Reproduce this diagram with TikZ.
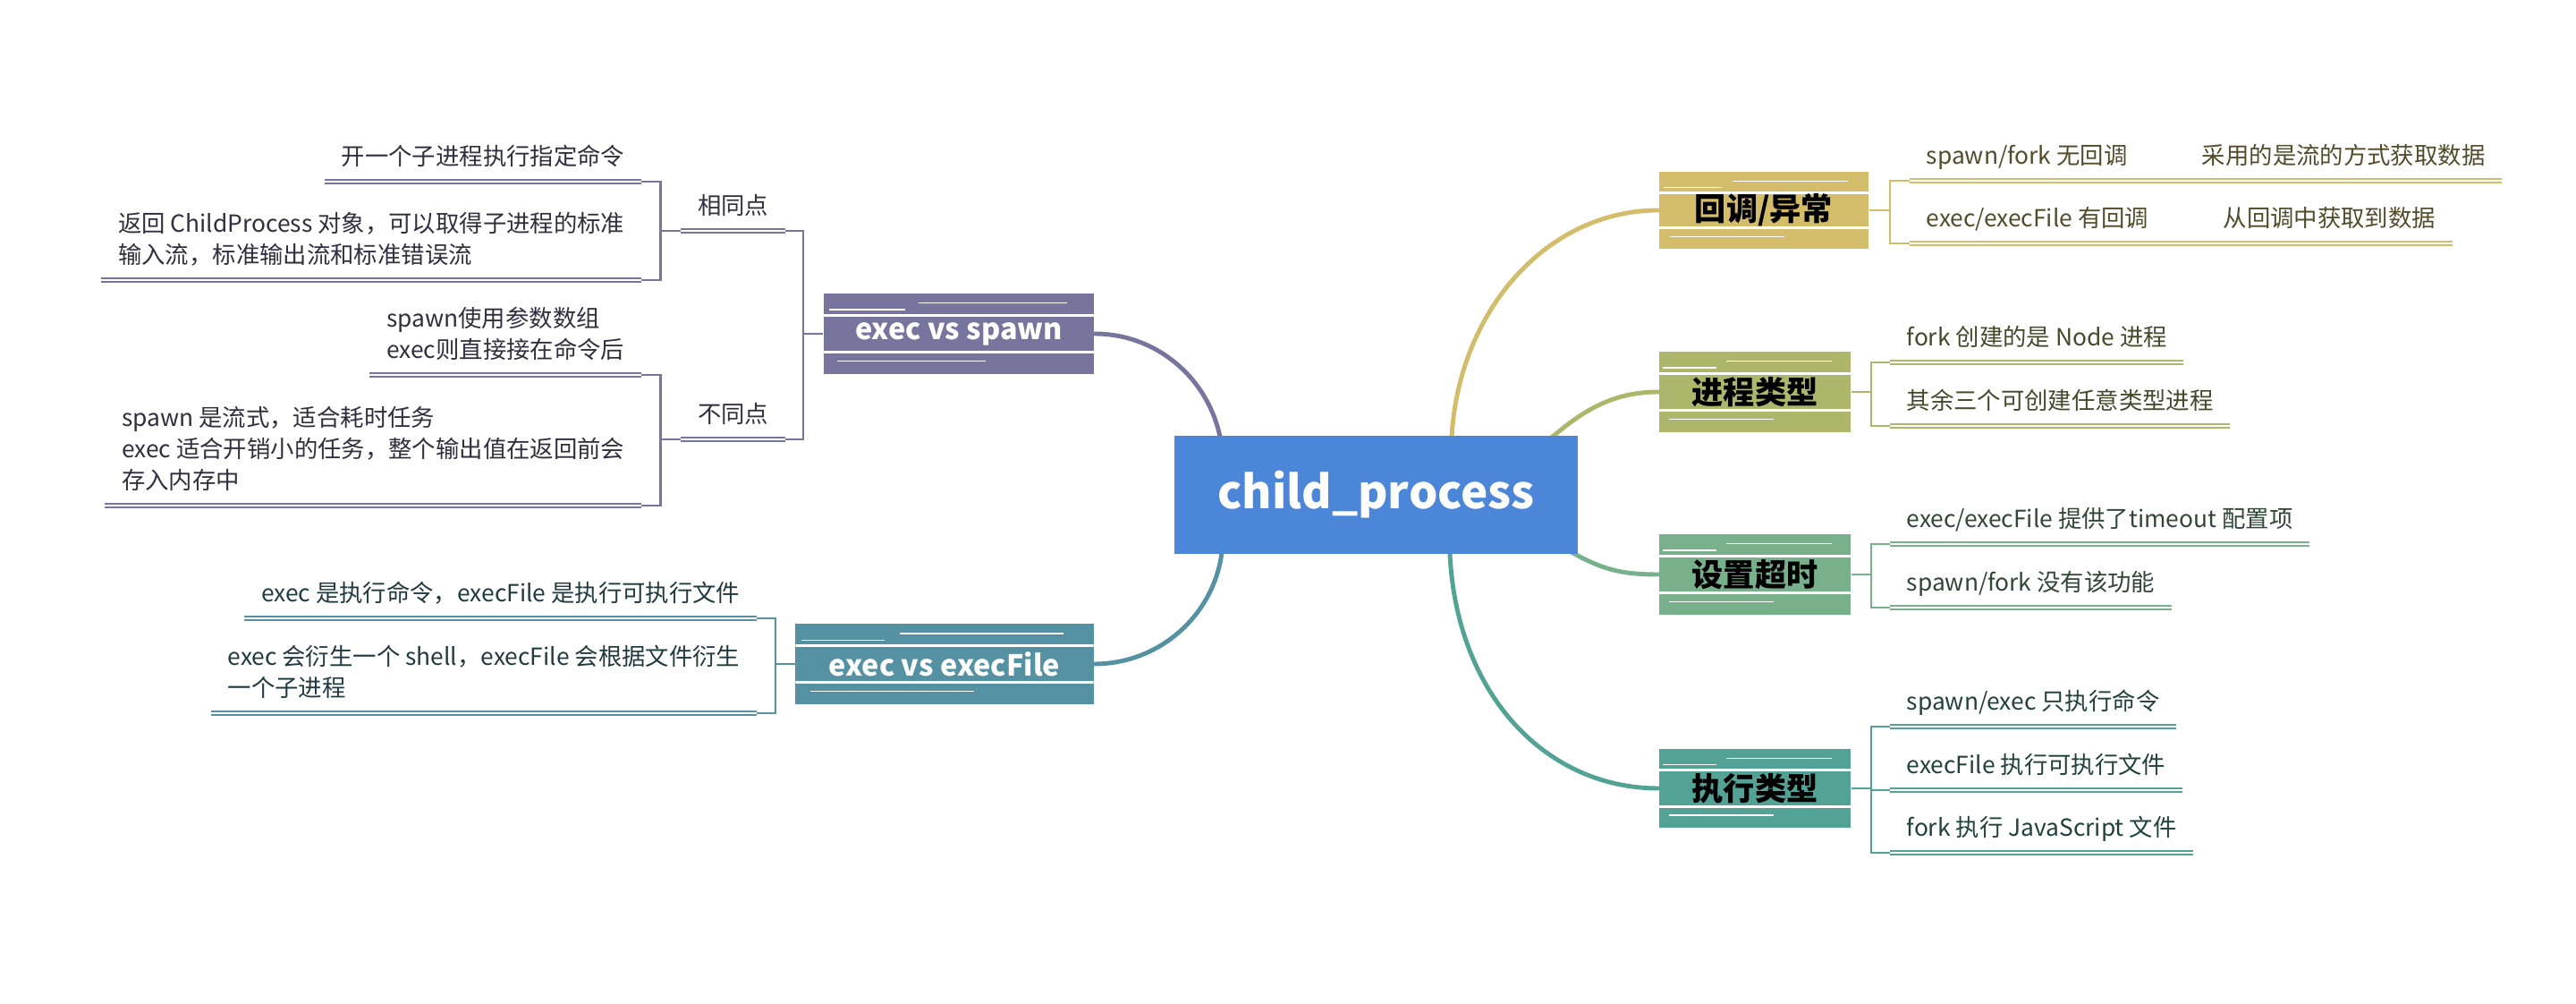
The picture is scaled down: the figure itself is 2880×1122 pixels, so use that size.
\documentclass[tikz,border=0pt]{standalone}
\usepackage{fontspec}
\setmainfont{Noto Sans CJK SC}
\usetikzlibrary{calc,backgrounds}

\definecolor{rootblue}{HTML}{4C86D9}
\definecolor{mustard}{HTML}{D3BC6A}
\definecolor{moss}{HTML}{ADB66B}
\definecolor{sage}{HTML}{77B08A}
\definecolor{jade}{HTML}{52A396}
\definecolor{slate}{HTML}{77759E}
\definecolor{petrol}{HTML}{5391A3}

\tikzset{
  root/.style={fill=rootblue, text=white, font=\fontsize{14.5}{17}\selectfont\bfseries,
    minimum width=4.51cm, minimum height=1.31cm, inner sep=0pt},
  streaks/.style={path picture={
    \foreach \f/\a/\b/\w in {0.12/0.35/0.9/0.4pt, 0.2/0.02/0.3/0.3pt, 0.27/-0.1/1.1/0.9pt,
                            0.73/-0.1/1.1/0.8pt, 0.84/0.05/0.6/0.4pt}{
      \draw[white, line width=\w]
        let \p1=($(path picture bounding box.north west)!\f!(path picture bounding box.south west)$),
            \p2=($(path picture bounding box.north east)!\f!(path picture bounding box.south east)$)
        in ($(\p1)!\a!(\p2)$) -- ($(\p1)!\b!(\p2)$);
    }}},
  branch/.style={fill=#1, font=\fontsize{10}{12}\selectfont\bfseries, inner sep=0pt, streaks},
  leaf/.style={font=\fontsize{7.5}{10}\selectfont, text=#1!40!black, align=left,
    inner xsep=1.8mm, inner ysep=0.69mm, execute at end node=\strut},
  limb/.style={draw=#1, line width=1.4pt, line cap=round},
  twig/.style={draw=#1, line width=0.6pt},
  rule/.style={draw=#1, line width=0.45pt, double=white, double distance=0.6pt},
}

\begin{document}
\begin{tikzpicture}[x=0.01cm, y=-0.01cm]
  \useasboundingbox (0,0) rectangle (2880,1122);

  % 中心主题
  \node[root] (root) at (1538.5,553) {child\_process};

  % 一级分支
  \node[branch=mustard, minimum width=2.34cm, minimum height=0.86cm] (cb) at (1972,235) {回调/异常};
  \node[branch=moss, minimum width=2.14cm, minimum height=0.9cm] (pt) at (1962,438) {进程类型};
  \node[branch=sage, minimum width=2.14cm, minimum height=0.9cm] (so) at (1962,642) {设置超时};
  \node[branch=jade, minimum width=2.14cm, minimum height=0.88cm] (ex) at (1962,881) {执行类型};
  \node[branch=slate, text=white, font=\fontsize{9.2}{11}\selectfont\bfseries,
        minimum width=3.02cm, minimum height=0.9cm] (evs) at (1072,373) {exec vs spawn};
  \node[branch=petrol, text=white, font=\fontsize{9.2}{11}\selectfont\bfseries,
        minimum width=3.33cm, minimum height=0.89cm] (evf) at (1056,742) {exec vs execFile};

  % 主干曲线
  \begin{scope}[on background layer]
    \draw[limb=mustard] ($(root.north)+(84,20)$) .. controls +(0,-150) and +(-130,0) .. (cb.west);
    \draw[limb=moss] ($(root.north east)+(-45,15)$) .. controls +(40,-35) and +(-60,0) .. (pt.west);
    \draw[limb=sage] ($(root.south east)+(-30,-15)$) .. controls +(50,30) and +(-50,0) .. (so.west);
    \draw[limb=jade] ($(root.south)+(82,-20)$) .. controls +(0,170) and +(-130,0) .. (ex.west);
    \draw[limb=slate] (evs.east) .. controls +(80,0) and +(0,-80) .. ($(root.north west)+(55,32)$);
    \draw[limb=petrol] (evf.east) .. controls +(79,0) and +(0,79) .. ($(root.south west)+(55,-20)$);
  \end{scope}

  % 回调/异常
  \node[leaf=mustard, anchor=south west] (cb1) at (2135,202) {spawn/fork 无回调};
  \node[leaf=mustard, anchor=south west] (cb1x) at ([xshift=0.46cm]cb1.south east) {采用的是流的方式获取数据};
  \node[leaf=mustard, anchor=south west] (cb2) at (2135,272) {exec/execFile 有回调};
  \node[leaf=mustard, anchor=south west] (cb2x) at ([xshift=0.46cm]cb2.south east) {从回调中获取到数据};
  \foreach \c in {cb1,cb2}
    \draw[twig=mustard] (cb.east) -- ++(23,0) |- (\c.south west);
  \draw[rule=mustard] (cb1.south west) -- (cb1x.south east);
  \draw[rule=mustard] (cb2.south west) -- (cb2x.south east);

  % 进程类型
  \node[leaf=moss, anchor=south west] (pt1) at (2113,405) {fork 创建的是 Node 进程};
  \node[leaf=moss, anchor=south west] (pt2) at (2113,476) {其余三个可创建任意类型进程};
  \foreach \c in {pt1,pt2}{
    \draw[twig=moss] (pt.east) -- ++(22,0) |- (\c.south west);
    \draw[rule=moss] (\c.south west) -- (\c.south east);
  }

  % 设置超时
  \node[leaf=sage, anchor=south west] (so1) at (2113,608) {exec/execFile 提供了timeout 配置项};
  \node[leaf=sage, anchor=south west] (so2) at (2113,679) {spawn/fork 没有该功能};
  \foreach \c in {so1,so2}{
    \draw[twig=sage] (so.east) -- ++(22,0) |- (\c.south west);
    \draw[rule=sage] (\c.south west) -- (\c.south east);
  }

  % 执行类型
  \node[leaf=jade, anchor=south west] (ex1) at (2113,812) {spawn/exec 只执行命令};
  \node[leaf=jade, anchor=south west] (ex2) at (2113,883) {execFile 执行可执行文件};
  \node[leaf=jade, anchor=south west] (ex3) at (2113,953) {fork 执行 JavaScript 文件};
  \foreach \c in {ex1,ex2,ex3}{
    \draw[twig=jade] (ex.east) -- ++(22,0) |- (\c.south west);
    \draw[rule=jade] (\c.south west) -- (\c.south east);
  }

  % exec vs spawn
  \node[leaf=slate, anchor=south east] (same) at (878,258) {相同点};
  \node[leaf=slate, anchor=south east] (diff) at (878,491) {不同点};
  \node[leaf=slate, anchor=south east] (same1) at (717,203) {开一个子进程执行指定命令};
  \node[leaf=slate, anchor=south east] (same2) at (717,313)
    {返回 ChildProcess 对象，可以取得子进程的标准\\输入流，标准输出流和标准错误流};
  \node[leaf=slate, anchor=south east] (diff1) at (717,419) {spawn使用参数数组\\exec则直接接在命令后};
  \node[leaf=slate, anchor=south east] (diff2) at (717,565)
    {spawn 是流式，适合耗时任务\\exec 适合开销小的任务，整个输出值在返回前会\\存入内存中};
  \foreach \c in {same,diff}
    \draw[twig=slate] (evs.west) -- ++(-22,0) |- (\c.south east);
  \foreach \c in {same1,same2}
    \draw[twig=slate] (same.south west) -- ++(-23,0) |- (\c.south east);
  \foreach \c in {diff1,diff2}
    \draw[twig=slate] (diff.south west) -- ++(-23,0) |- (\c.south east);
  \foreach \c in {same,diff,same1,same2,diff1,diff2}
    \draw[rule=slate] (\c.south west) -- (\c.south east);

  % exec vs execFile
  \node[leaf=petrol, anchor=south east] (evf1) at (846,691) {exec 是执行命令，execFile 是执行可执行文件};
  \node[leaf=petrol, anchor=south east] (evf2) at (846,797)
    {exec 会衍生一个 shell，execFile 会根据文件衍生\\一个子进程};
  \foreach \c in {evf1,evf2}{
    \draw[twig=petrol] (evf.west) -- ++(-22,0) |- (\c.south east);
    \draw[rule=petrol] (\c.south west) -- (\c.south east);
  }
\end{tikzpicture}
\end{document}
